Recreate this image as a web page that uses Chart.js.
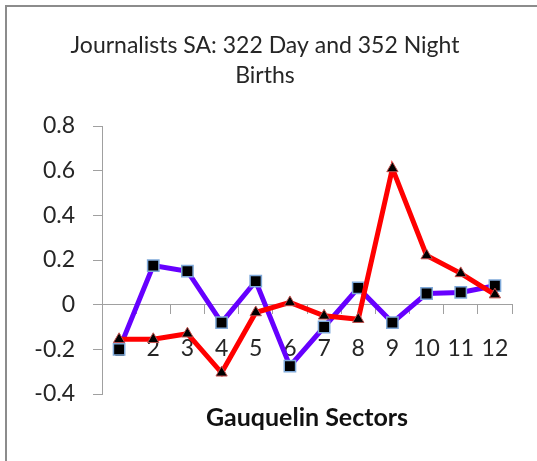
<!DOCTYPE html>
<html>
<head>
<meta charset="utf-8">
<script src="https://cdn.jsdelivr.net/npm/chart.js@4/dist/chart.umd.min.js"></script>
<style>
  html, body { margin: 0; padding: 0; background: #fff; }
  #wrap { position: relative; width: 537px; height: 461px; }
  #frame { position: absolute; left: 5px; top: 5px; width: 540px; height: 470px;
           border-left: 2px solid #8c8c8c; border-top: 2px solid #8c8c8c; box-sizing: border-box; }
  canvas { position: absolute; left: 0; top: 0; }
</style>
</head>
<body>
<div id="wrap">
  <div id="frame"></div>
  <canvas id="myChart" width="537" height="461"></canvas>
</div>
<script>
// sectores de Gauquelin y los dos grupos de nacimientos
const sectores = ['1', '2', '3', '4', '5', '6', '7', '8', '9', '10', '11', '12'];
const nacDia = [-0.20, 0.175, 0.15, -0.08, 0.105, -0.275, -0.10, 0.075, -0.08, 0.05, 0.055, 0.085];
const nacNoche = [-0.155, -0.155, -0.13, -0.305, -0.035, 0.01, -0.05, -0.065, 0.61, 0.22, 0.14, 0.045];
const ticksY = [-0.4, -0.2, 0, 0.2, 0.4, 0.6, 0.8];

const titulo = ['Journalists SA: 322 Day and 352 Night', 'Births'];
const tituloEje = 'Gauquelin Sectors';

const fuente = 'Lato, "Open Sans", sans-serif';

const data = {
    labels: sectores,
    datasets: [{
        label: 'Day',
        data: nacDia,
        borderColor: '#6600ff',
        borderWidth: 5,
        pointStyle: 'rect',
        pointRadius: 8,
        pointBackgroundColor: '#000',
        pointBorderColor: '#7fa9d9',
        pointBorderWidth: 1.5,
        order: 1
    }, {
        label: 'Night',
        data: nacNoche,
        borderColor: '#ff0000',
        borderWidth: 5,
        pointStyle: 'triangle',
        pointRadius: 6.5,
        pointBackgroundColor: '#000',
        pointBorderColor: '#c0504d',
        pointBorderWidth: 1,
        order: 0
    }]
};

const config = {
    type: 'line',
    data: data,
    options: {
        responsive: false,
        animation: false,
        // izquierda 18 + eje 84 = 102, asi el titulo queda centrado como en el original
        layout: { padding: { left: 18, right: 25, top: 0, bottom: 0 } },
        plugins: {
            legend: { display: false },
            tooltip: { enabled: false },
            title: {
                display: true,
                text: titulo,
                color: '#262626',
                font: { family: fuente, size: 23, weight: 'normal', lineHeight: 30 / 23 },
                padding: { top: 31, bottom: 35 }
            }
        },
        scales: {
            x: {
                position: { y: 0 },
                offset: true,
                grid: { offset: true, drawOnChartArea: false, drawTicks: true, tickLength: 9, color: '#a0a0a0' },
                border: { display: true, color: '#a0a0a0', width: 1 },
                ticks: { color: '#262626', padding: 21, maxRotation: 0, autoSkip: false,
                         font: { family: fuente, size: 23 } }
            },
            x2: {
                type: 'category',
                labels: sectores,
                position: 'bottom',
                grid: { display: false },
                border: { display: false },
                ticks: { display: false },
                title: {
                    display: true,
                    text: tituloEje,
                    color: '#111',
                    font: { family: fuente, size: 25, weight: 'bold', lineHeight: 1.2 },
                    padding: 28
                },
                afterFit: function (s) { s.height = 67; }
            },
            y: {
                min: -0.4,
                max: 0.8,
                afterBuildTicks: function (s) { s.ticks = ticksY.map(v => ({ value: v })); },
                grid: { drawOnChartArea: false, drawTicks: true, tickLength: 9, color: '#a0a0a0' },
                border: { display: true, color: '#a0a0a0', width: 1 },
                ticks: { color: '#262626', padding: 18, font: { family: fuente, size: 23 },
                         callback: v => String(Math.round(v * 10) / 10) },
                afterFit: function (s) { s.width = 84; }
            }
        }
    }
};

const myChart = new Chart(document.getElementById('myChart'), config);
</script>
</body>
</html>
